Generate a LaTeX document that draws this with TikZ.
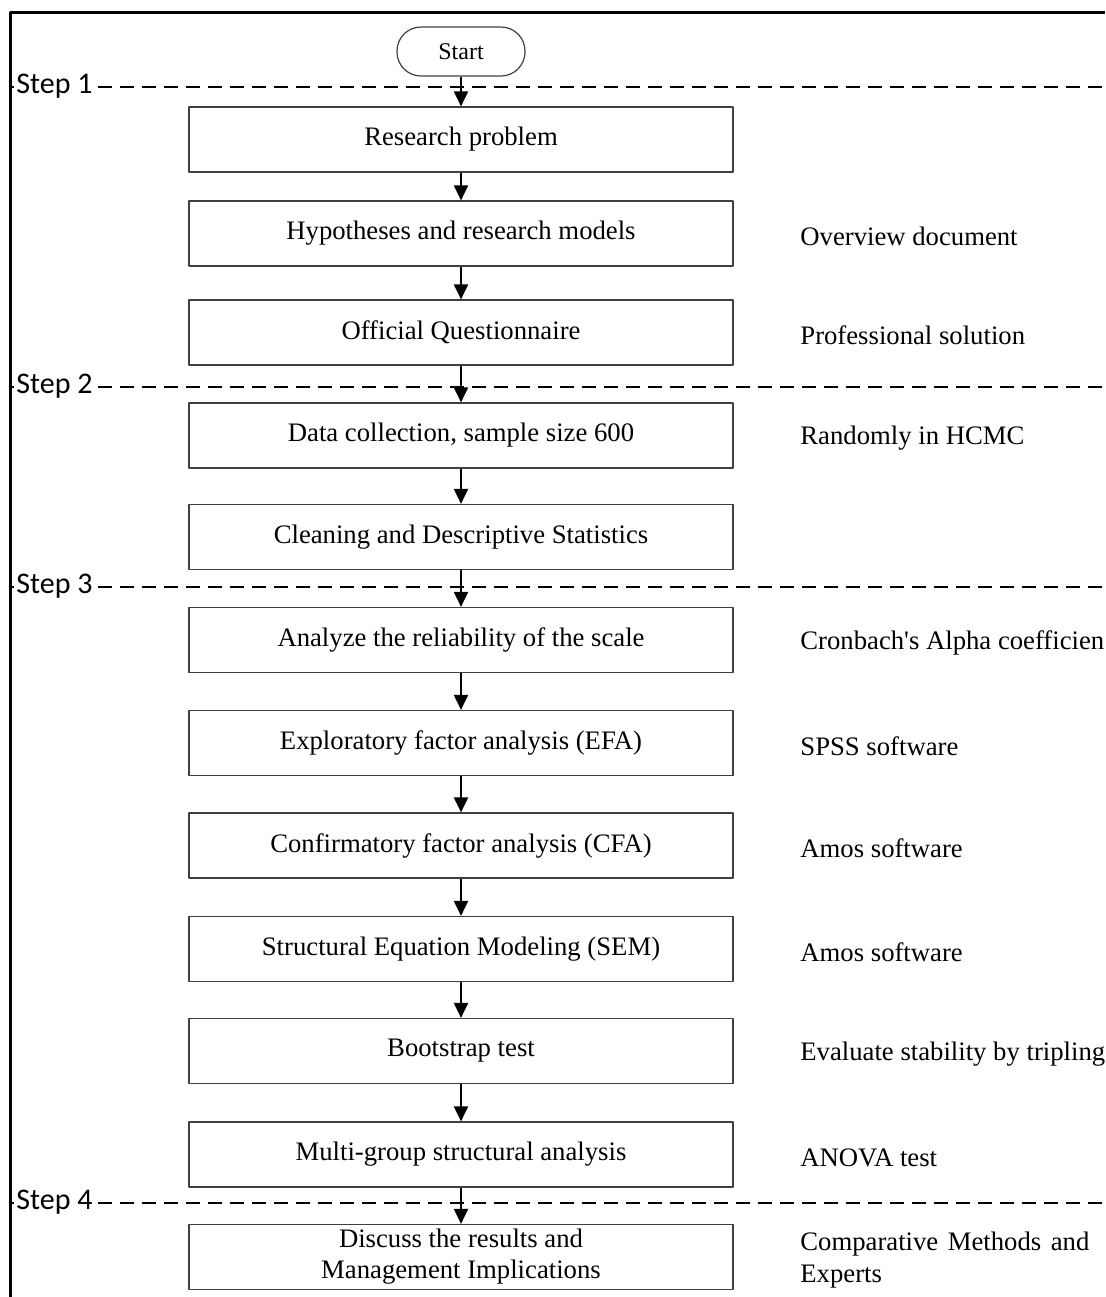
\documentclass[tikz,border=0pt]{standalone}
\usepackage{fontspec}
\setmainfont{Liberation Serif}
\newfontfamily\stepfont{Carlito}
\usetikzlibrary{arrows.meta}
\tikzset{
	procbox/.style={draw=black!75, line width=0.6pt, minimum width=272pt, minimum height=32.5pt, inner sep=0pt, align=center, font=\fontsize{13.35}{15.4}\selectfont},
	startbox/.style={draw=black!75, line width=0.6pt, rounded corners=12pt, minimum width=64pt, minimum height=24.5pt, inner sep=0pt, font=\fontsize{12}{14}\selectfont},
	flow/.style={-{Triangle[length=7.5pt,width=7pt]}, line width=1pt},
	steplabel/.style={anchor=west, inner sep=0pt, text height=0.644em, text depth=0pt, font=\stepfont\fontsize{15}{18}\selectfont},
	stepline/.style={line width=1pt, dash pattern=on 7pt off 4pt},
	note/.style={anchor=west, inner sep=0pt, yshift=-1.5pt, font=\fontsize{13.35}{16}\selectfont}
}
\begin{document}
\begin{tikzpicture}[x=0.5pt, y=-0.5pt, line join=round]
			
			\useasboundingbox (0,0) rectangle (1105,1297);
			\path 
				(10,1297) coordinate (BL)
				(10,12) coordinate (TL)
				(1105,12) coordinate (TR)
				(1105,0) coordinate (R)
				(800,0) coordinate (N)
			;
			
			\draw[line width=1.5pt] (BL) -- (TL) -- (TR);
			
			% steps
			\foreach \s/\y in {1/87, 2/387, 3/587, 4/1203}{
				\node[steplabel] (step\s) at (16,\y) {Step \s};
				\draw[line width=0.8pt] (step\s.west -| TL) -- ([xshift=-1pt]step\s.west);
				\draw[stepline] ([xshift=2.5pt]step\s.east) -- (step\s.east -| R);
			}
			
			% flow
			\node[startbox] (start) at (461,51.5) {Start};
			\foreach \n/\y/\t in {rp/139.5/Research problem, hyp/233.5/Hypotheses and research models, oq/332.5/Official Questionnaire, dc/435.5/{Data collection, sample size 600}, cl/537/Cleaning and Descriptive Statistics, ar/640/Analyze the reliability of the scale, efa/743/Exploratory factor analysis (EFA), cfa/845.5/Confirmatory factor analysis (CFA), sem/949/Structural Equation Modeling (SEM), bt/1051/Bootstrap test, mg/1154.5/Multi-group structural analysis, dr/1257/{Discuss the results and\\Management Implications}}{
				\node[procbox] (\n) at (461,\y) {\t};
			}
			\foreach \a/\b in {start/rp, rp/hyp, hyp/oq, oq/dc, dc/cl, cl/ar, ar/efa, efa/cfa, cfa/sem, sem/bt, bt/mg, mg/dr}{
				\draw[flow] (\a) -- (\b);
			}
			
			% notes
			\foreach \n/\t in {hyp/Overview document, oq/Professional solution, dc/Randomly in HCMC, ar/{Cronbach\textquotesingle s Alpha coefficien}, efa/SPSS software, cfa/Amos software, sem/Amos software, bt/Evaluate stability by tripling, mg/ANOVA test}{
				\node[note] (note-\n) at (\n.center -| N) {\t};
			}
			\node[note, text width=144.5pt, align=left] (note-dr) at (dr.center -| N) {Comparative\hfill Methods\hfill and\\Experts};
		\end{tikzpicture}
\end{document}
